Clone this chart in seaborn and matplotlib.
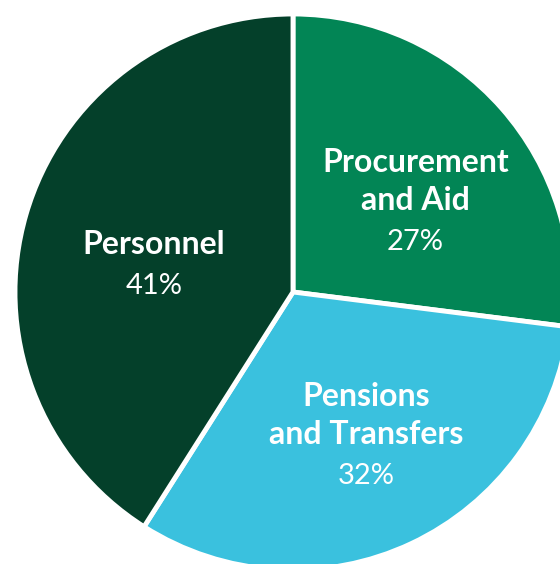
import numpy as np
import seaborn as sns
import matplotlib.pyplot as plt

# Budget shares (percent)
categories = ['Procurement\nand Aid', 'Pensions\nand Transfers', 'Personnel']
shares = [27, 32, 41]
pct_labels = ['27%', '32%', '41%']
colors = ['#028555', '#3AC1DE', '#04402A']

# label anchor tweaks per wedge: (angle shift in deg, radius fraction)
label_pos = [(-11, 0.51), (-1, 0.64), (5, 0.51)]

sns.set_theme(style='white')
plt.rcParams['font.family'] = ['Lato', 'DejaVu Sans']

fig = plt.figure(figsize=(5.6, 5.64), dpi=100)
ax = fig.add_axes([0, 0, 1, 1])

wedges, _ = ax.pie(shares, colors=colors, startangle=90, counterclock=False,
                   radius=1.0, center=(0, 0),
                   wedgeprops=dict(edgecolor='white', linewidth=3.5))

for w, name, pct, (shift, r) in zip(wedges, categories, pct_labels, label_pos):
    mid = np.deg2rad((w.theta1 + w.theta2) / 2 + shift)
    x, y = r * np.cos(mid), r * np.sin(mid)
    ax.annotate(name, (x, y), xytext=(0, 4), textcoords='offset points',
                ha='center', va='bottom', color='white', fontsize=23,
                fontweight='bold', linespacing=1.38)
    ax.annotate(pct, (x, y), xytext=(0, -6.5), textcoords='offset points',
                ha='center', va='top', color='white', fontsize=21,
                fontweight='normal')

# circle centre at (293, 292) px, radius 278 px; pie is cropped right/bottom
R = 278
ax.set_xlim(-293 / R, (560 - 293) / R)
ax.set_ylim(-(564 - 292) / R, 292 / R)
ax.set_aspect('auto')
ax.axis('off')

fig.savefig('out.png', dpi=100, facecolor='white')
